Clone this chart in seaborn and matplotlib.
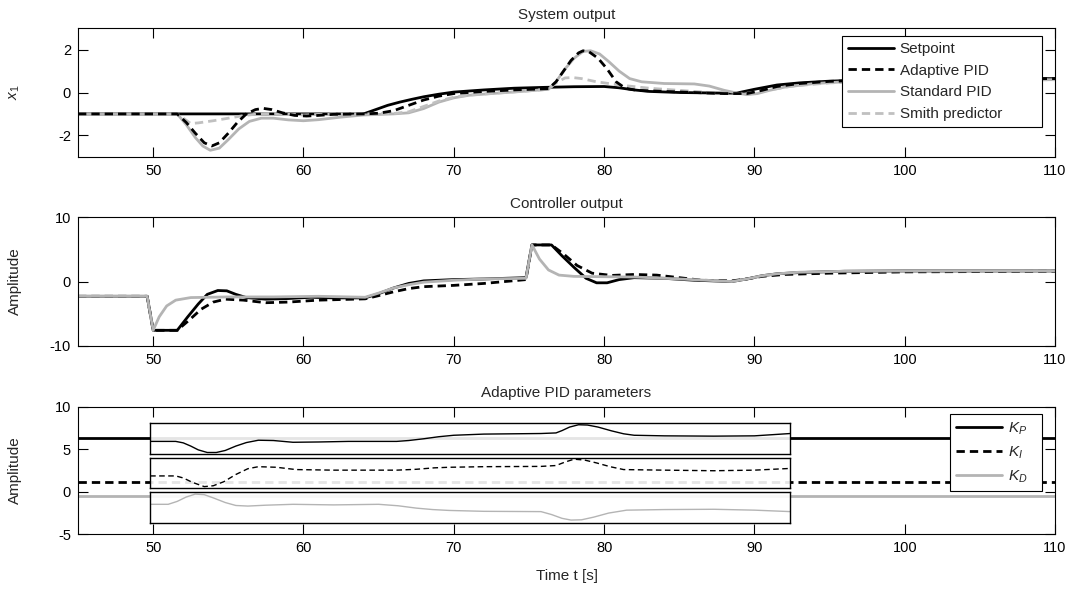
import numpy as np
import pandas as pd
import matplotlib
matplotlib.use("Agg")
import matplotlib.pyplot as plt
import seaborn as sns

# ---- system output (top panel) ----
setpoint_t = [45, 51.6, 64.0, 64.8, 65.6, 66.4, 67.2, 68.0, 69.0, 70.0, 72.0, 74.0, 76.0, 78.0,
              80.0, 81.0, 82.0, 83.0, 85.0, 88.0, 88.8, 90.0, 91.5, 93.0, 95.0, 98.0, 101.0, 110.0]
setpoint_y = [-1, -1, -1, -0.8, -0.6, -0.45, -0.32, -0.2, -0.08, 0.02, 0.12, 0.2, 0.24, 0.27,
              0.28, 0.22, 0.12, 0.05, 0.0, -0.03, -0.03, 0.15, 0.35, 0.45, 0.53, 0.6, 0.63, 0.65]

adaptive_t = [45, 51.6, 52.2, 52.8, 53.4, 53.9, 54.4, 55.0, 55.6, 56.2, 56.8, 57.3, 57.9, 58.6,
              59.4, 60.2, 61.0, 62.0, 64.0, 65.0, 66.0, 67.0, 68.0, 69.0, 70.0, 72.0, 74.0, 76.3,
              76.8, 77.3, 77.8, 78.3, 78.6, 79.0, 79.6, 80.2, 80.8, 81.4, 82.2, 84.0, 86.0, 88.0,
              89.5, 90.5, 91.5, 93.0, 95.0, 98.0, 101.0, 110.0]
adaptive_y = [-1, -1, -1.4, -1.9, -2.35, -2.5, -2.35, -1.9, -1.4, -1.0, -0.8, -0.74, -0.8, -0.95,
              -1.07, -1.1, -1.07, -1.02, -1.0, -0.97, -0.85, -0.6, -0.35, -0.17, -0.05, 0.05, 0.12, 0.18,
              0.5, 1.0, 1.5, 1.85, 1.95, 1.9, 1.6, 1.1, 0.5, 0.2, 0.1, 0.05, 0.0, -0.05,
              -0.05, 0.1, 0.28, 0.42, 0.52, 0.58, 0.62, 0.65]

standard_t = [45, 51.6, 52.2, 52.8, 53.3, 53.8, 54.4, 55.0, 55.7, 56.4, 57.2, 58.0, 59.0, 60.0,
              61.0, 62.5, 64.0, 66.0, 67.0, 68.0, 69.0, 70.0, 71.0, 72.5, 74.5, 76.3, 76.8, 77.4,
              78.0, 78.6, 79.1, 79.7, 80.3, 81.0, 81.7, 82.5, 84.0, 86.0, 87.0, 88.0, 88.8, 89.5,
              90.2, 91.0, 92.0, 94.0, 96.0, 100.0, 105.0, 110.0]
standard_y = [-1, -1, -1.5, -2.1, -2.5, -2.7, -2.6, -2.2, -1.7, -1.35, -1.2, -1.2, -1.28, -1.32,
              -1.27, -1.15, -1.05, -1.0, -0.95, -0.75, -0.45, -0.25, -0.13, -0.05, 0.05, 0.15, 0.5, 1.1,
              1.6, 1.92, 1.95, 1.8, 1.45, 1.0, 0.65, 0.5, 0.42, 0.4, 0.3, 0.1, -0.02, -0.1,
              -0.05, 0.1, 0.25, 0.42, 0.5, 0.55, 0.58, 0.6]

smith_t = [45, 51.6, 52.0, 52.5, 53.0, 54.0, 55.0, 56.0, 57.0, 58.0, 60.0, 62.0, 64.0, 66.0,
           67.0, 68.0, 69.0, 70.0, 71.0, 73.0, 75.0, 76.3, 76.8, 77.4, 77.9, 78.5, 79.5, 81.0,
           83.0, 85.0, 87.0, 88.5, 90.0, 91.0, 92.5, 95.0, 100.0, 110.0]
smith_y = [-1, -1, -1.2, -1.45, -1.42, -1.32, -1.2, -1.08, -1.0, -0.98, -1.05, -1.0, -1.0, -0.98,
           -0.9, -0.65, -0.4, -0.22, -0.12, -0.02, 0.08, 0.15, 0.45, 0.68, 0.7, 0.65, 0.5, 0.35,
           0.2, 0.1, 0.0, -0.05, -0.02, 0.12, 0.3, 0.45, 0.55, 0.6]

# ---- controller output (middle panel) ----
u_solid_t = [45, 49.6, 50.0, 51.6, 52.3, 53.0, 53.6, 54.3, 54.9, 55.5, 56.2, 57.5, 59.0, 60.5,
             62.0, 64.1, 65.0, 66.0, 67.0, 68.0, 70.0, 72.0, 74.8, 75.2, 76.5, 77.2, 78.0, 78.8,
             79.5, 80.2, 81.0, 82.0, 84.0, 86.0, 88.5, 89.5, 90.5, 91.5, 93.0, 96.0, 100.0, 110.0]
u_solid_y = [-2.3, -2.3, -7.6, -7.6, -5.5, -3.5, -2.0, -1.4, -1.45, -2.0, -2.5, -2.75, -2.65, -2.45,
             -2.55, -2.55, -1.9, -1.0, -0.3, 0.1, 0.3, 0.4, 0.6, 5.7, 5.7, 4.0, 2.2, 0.5,
             -0.2, -0.2, 0.3, 0.6, 0.5, 0.2, 0.0, 0.4, 0.9, 1.2, 1.4, 1.6, 1.65, 1.65]

u_dashed_t = [45, 49.6, 50.0, 51.6, 52.4, 53.2, 54.0, 54.8, 56.0, 57.5, 59.0, 61.0, 64.1, 65.0,
              66.0, 67.0, 68.0, 70.0, 72.0, 74.8, 75.2, 76.5, 77.3, 78.2, 79.2, 80.5, 82.0, 83.5,
              85.0, 86.5, 88.5, 89.5, 90.5, 92.0, 95.0, 100.0, 110.0]
u_dashed_y = [-2.3, -2.3, -7.6, -7.6, -6.0, -4.3, -3.2, -2.75, -2.9, -3.3, -3.2, -2.9, -2.7, -2.2,
              -1.6, -1.1, -0.8, -0.6, -0.3, 0.3, 5.7, 5.7, 4.3, 2.5, 1.3, 0.95, 1.1, 1.0,
              0.6, 0.2, 0.1, 0.4, 0.8, 1.1, 1.3, 1.5, 1.6]

u_gray_t = [45, 49.6, 50.0, 50.4, 50.9, 51.5, 52.5, 55.0, 58.0, 61.0, 64.1, 65.0, 66.0, 67.0,
            68.0, 70.0, 72.0, 74.8, 75.2, 75.7, 76.3, 77.0, 78.0, 82.0, 85.0, 88.5, 89.5, 90.5,
            91.5, 93.0, 96.0, 100.0, 110.0]
u_gray_y = [-2.3, -2.3, -7.6, -5.5, -3.8, -2.9, -2.5, -2.4, -2.4, -2.3, -2.45, -1.8, -1.0, -0.5,
            -0.1, 0.2, 0.4, 0.5, 5.7, 3.5, 1.8, 1.0, 0.8, 0.7, 0.4, 0.0, 0.4, 0.9,
            1.2, 1.45, 1.6, 1.65, 1.65]

# ---- adaptive PID parameters (bottom panel) ----
t_full = [45, 110]
kp_level = [6.3, 6.3]
ki_level = [1.2, 1.2]
kd_level = [-0.45, -0.45]

# zoomed views inside the boxes (0 = bottom of box, 1 = top of box)
kp_t = [49.8, 51.5, 52.0, 52.5, 53.0, 53.6, 54.2, 54.8, 55.5, 56.2, 57.0, 58.0, 59.3, 61.0,
        63.0, 66.2, 67.0, 68.0, 69.0, 70.0, 72.0, 75.8, 76.8, 77.2, 77.7, 78.3, 78.9, 79.6,
        80.5, 81.3, 82.0, 84.0, 87.3, 90.0, 92.4]
kp_y = [0.41, 0.41, 0.36, 0.25, 0.12, 0.03, 0.03, 0.1, 0.25, 0.37, 0.45, 0.44, 0.38, 0.39,
        0.41, 0.41, 0.44, 0.5, 0.57, 0.62, 0.66, 0.68, 0.7, 0.78, 0.9, 0.98, 0.97, 0.9,
        0.77, 0.67, 0.62, 0.6, 0.59, 0.6, 0.68]
ki_t = [49.8, 51.5, 52.0, 52.6, 53.4, 54.0, 54.7, 55.5, 56.3, 57.0, 58.2, 59.5, 62.0, 66.2,
        67.5, 68.7, 69.7, 72.0, 75.8, 76.8, 77.4, 78.0, 78.7, 79.5, 80.4, 81.3, 84.0, 87.3,
        90.0, 92.4]
ki_y = [0.4, 0.4, 0.33, 0.18, 0.03, 0.06, 0.2, 0.45, 0.65, 0.72, 0.7, 0.62, 0.6, 0.6,
        0.63, 0.68, 0.7, 0.72, 0.73, 0.76, 0.88, 0.98, 0.95, 0.85, 0.72, 0.62, 0.6, 0.58,
        0.6, 0.66]
kd_t = [49.8, 51.0, 51.6, 52.2, 52.8, 53.4, 54.0, 54.8, 55.5, 56.3, 57.5, 59.3, 62.0, 65.0,
        66.3, 67.5, 68.6, 69.7, 72.0, 75.8, 76.5, 77.2, 77.8, 78.5, 79.3, 80.3, 81.5, 84.0,
        87.3, 90.0, 92.4]
kd_y = [0.6, 0.6, 0.7, 0.85, 0.95, 0.93, 0.82, 0.66, 0.56, 0.54, 0.57, 0.6, 0.58, 0.6,
        0.55, 0.47, 0.42, 0.39, 0.36, 0.35, 0.25, 0.12, 0.06, 0.07, 0.16, 0.3, 0.4, 0.42,
        0.43, 0.4, 0.35]

GRAY = "#b4b4b4"
LIGHT = "#c0c0c0"
dash = (3, 1.8)

sns.set_style("ticks")
plt.rcParams["font.family"] = ["Liberation Sans", "DejaVu Sans"]
plt.rcParams["font.size"] = 11
plt.rcParams["axes.unicode_minus"] = False
plt.rcParams["mathtext.fontset"] = "custom"
plt.rcParams["mathtext.it"] = "Liberation Sans:italic"
plt.rcParams["mathtext.rm"] = "Liberation Sans"

fig = plt.figure(figsize=(10.79, 5.92), dpi=100)
ax1 = fig.add_axes([0.0723, 0.7353, 0.9055, 0.2169])
ax2 = fig.add_axes([0.0723, 0.4160, 0.9055, 0.2169])
ax3 = fig.add_axes([0.0723, 0.0975, 0.9055, 0.2155])


def style(ax, ylim, yticks, ylabel, title):
    ax.set_xlim(45, 110)
    ax.set_ylim(*ylim)
    ax.set_xticks([50, 60, 70, 80, 90, 100, 110])
    ax.set_yticks(yticks)
    ax.tick_params(direction="in", length=7, width=0.8, top=True, right=True,
                   colors="black", labelsize=10.5, pad=5)
    for s in ax.spines.values():
        s.set_visible(True)
        s.set_color("black")
        s.set_linewidth(0.8)
    ax.set_xlabel("")
    ax.set_ylabel(ylabel, fontsize=11)
    ax.yaxis.set_label_coords(-0.057, 0.5)
    ax.set_title(title, fontsize=11, pad=7)


def make_legend(ax, handles, labels):
    leg = ax.legend(handles, labels, loc="upper right", bbox_to_anchor=(0.987, 0.94),
                    borderaxespad=0, fancybox=False, edgecolor="black", framealpha=1,
                    handlelength=3.0, labelspacing=0.5, borderpad=0.4, handletextpad=0.4,
                    fontsize=11)
    leg.get_frame().set_linewidth(0.8)


# top panel
sns.lineplot(x=setpoint_t, y=setpoint_y, ax=ax1, color="black", lw=2)
sns.lineplot(x=standard_t, y=standard_y, ax=ax1, color=GRAY, lw=2)
sns.lineplot(x=smith_t, y=smith_y, ax=ax1, color=LIGHT, lw=2)
sns.lineplot(x=adaptive_t, y=adaptive_y, ax=ax1, color="black", lw=2)
ln = ax1.get_lines()
ln[2].set_dashes(dash)
ln[3].set_dashes(dash)
style(ax1, (-3, 3), [-2, 0, 2], "$x_1$", "System output")
# trailing spaces give the wide right margin of the original legend box
make_legend(ax1, [ln[0], ln[3], ln[1], ln[2]],
            ["Setpoint", "Adaptive PID", "Standard PID", "Smith predictor        "])

# middle panel
sns.lineplot(x=u_solid_t, y=u_solid_y, ax=ax2, color="black", lw=2)
sns.lineplot(x=u_dashed_t, y=u_dashed_y, ax=ax2, color="black", lw=2)
ax2.lines[1].set_dashes(dash)
sns.lineplot(x=u_gray_t, y=u_gray_y, ax=ax2, color=GRAY, lw=2)
style(ax2, (-10, 10), [-10, 0, 10], "Amplitude", "Controller output")

# bottom panel
sns.lineplot(x=t_full, y=kp_level, ax=ax3, color="black", lw=2)
sns.lineplot(x=t_full, y=ki_level, ax=ax3, color="black", lw=2)
ax3.lines[1].set_dashes(dash)
sns.lineplot(x=t_full, y=kd_level, ax=ax3, color=GRAY, lw=2)
style(ax3, (-5, 10), [-5, 0, 5, 10], "Amplitude", "Adaptive PID parameters")
ax3.set_xlabel("Time t [s]", fontsize=11, labelpad=10)
make_legend(ax3, ax3.lines[:3], ["$K_P$   ", "$K_I$", "$K_D$"])

boxes = [(4.41, 8.05, kp_t, kp_y, "black", None),
         (0.40, 4.00, ki_t, ki_y, "black", (4, 2.5)),
         (-3.64, 0.0, kd_t, kd_y, GRAY, None)]
for y0, y1, bt, by, col, ds in boxes:
    ins = ax3.inset_axes([49.8, y0, 92.4 - 49.8, y1 - y0], transform=ax3.transData)
    ins.patch.set_facecolor("white")
    ins.patch.set_alpha(0.9)
    sns.lineplot(x=bt, y=by, ax=ins, color=col, lw=1)
    if ds:
        ins.lines[0].set_dashes(ds)
    ins.set_xlim(49.8, 92.4)
    ins.set_ylim(-0.03, 1.03)
    ins.set_xticks([])
    ins.set_yticks([])
    ins.set_xlabel("")
    ins.set_ylabel("")
    for s in ins.spines.values():
        s.set_visible(True)
        s.set_color("black")
        s.set_linewidth(1)

fig.savefig("out.png", dpi=100)
